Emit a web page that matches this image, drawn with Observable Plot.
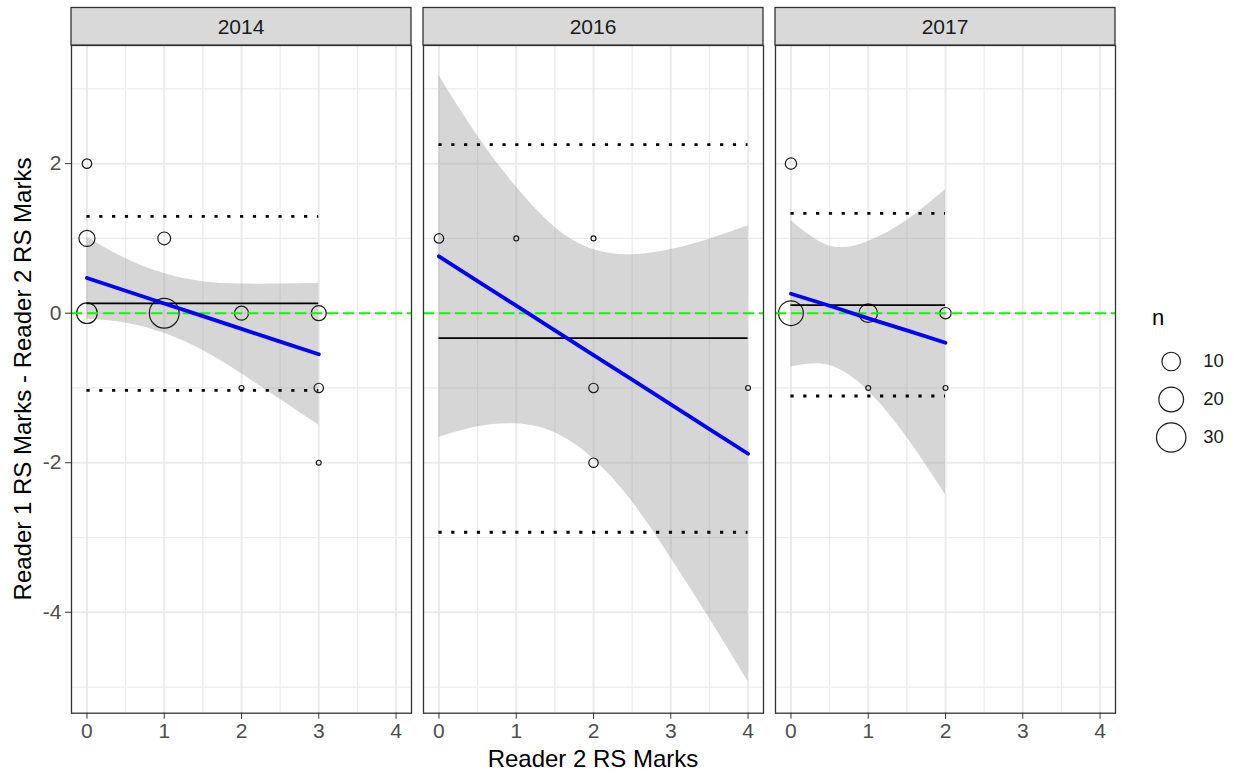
<!DOCTYPE html>
<html><head><meta charset="utf-8">
<script src="https://cdn.jsdelivr.net/npm/d3@7"></script>
<script src="https://cdn.jsdelivr.net/npm/@observablehq/plot@0.6"></script>
<style>
html,body{margin:0;padding:0;background:#fff;}
#wrap{position:relative;width:1238px;height:776px;overflow:hidden;font-family:"Liberation Sans",Arial,sans-serif;}
#wrap svg{position:absolute;}
.xtitle{position:absolute;left:0;width:1186px;top:747px;text-align:center;font-size:24px;line-height:24px;color:#000;}
.ytitle{position:absolute;left:23px;top:379px;transform:translate(-50%,-50%) rotate(-90deg);white-space:nowrap;font-size:24px;line-height:24px;color:#000;}
.ltitle{position:absolute;left:1152px;top:307px;font-size:22px;line-height:22px;color:#000;}
</style></head><body><div id="wrap"></div>
<script>
const FONT = '"Liberation Sans", Arial, sans-serif';
const years = ["2014", "2016", "2017"];

// observed points (x = Reader 2 marks, diff = Reader1 - Reader2, n = count)
const x2014 = [0, 0, 1, 0, 1, 2, 3, 2, 3, 3];
const diff2014 = [2, 1, 1, 0, 0, 0, 0, -1, -1, -2];
const n2014 = [2, 7, 4, 13, 31, 5, 6, 1, 2, 1];
const x2016 = [0, 1, 2, 2, 2, 4];
const diff2016 = [1, 1, 1, -1, -2, -1];
const n2016 = [2, 1, 1, 2, 2, 1];
const x2017 = [0, 0, 1, 2, 1, 2];
const diff2017 = [2, 0, 0, 0, -1, -1];
const n2017 = [3, 20, 10, 3, 1, 1];

// mean difference and limits of agreement per year
const meanDiff = [0.131, -0.333, 0.108];
const upperLoA = [1.294, 2.253, 1.334];
const lowerLoA = [-1.032, -2.930, -1.108];

// linear fit and its confidence band
const smoothX2014 = [0, 0.5, 1, 1.5, 2, 2.5, 3];
const fit2014 = [0.47, 0.30, 0.13, -0.04, -0.21, -0.38, -0.55];
const ciHi2014 = [1.02, 0.73, 0.53, 0.42, 0.39, 0.39, 0.40];
const ciLo2014 = [-0.08, -0.13, -0.27, -0.50, -0.81, -1.15, -1.50];
const smoothX2016 = [0, 0.5, 1, 1.5, 2, 2.5, 3, 3.5, 4];
const fit2016 = [0.76, 0.43, 0.10, -0.23, -0.56, -0.89, -1.22, -1.55, -1.88];
const ciHi2016 = [3.18, 2.37, 1.69, 1.15, 0.85, 0.78, 0.85, 0.99, 1.17];
const ciLo2016 = [-1.66, -1.52, -1.48, -1.60, -1.95, -2.52, -3.27, -4.08, -4.93];
const smoothX2017 = [0, 0.5, 1, 1.5, 2];
const fit2017 = [0.26, 0.10, -0.07, -0.23, -0.395];
const ciHi2017 = [1.24, 0.90, 0.96, 1.24, 1.65];
const ciLo2017 = [-0.72, -0.70, -1.04, -1.66, -2.43];

// axis ticks
const xTicks = [0, 1, 2, 3, 4];
const xMinor = [0.5, 1.5, 2.5, 3.5];
const yTicks = [-4, -2, 0, 2];
const yMinor = [-5, -3, -1, 1, 3];
const legendN = [10, 20, 30];

// ---- build tables ----
const pointSets = {"2014": [x2014, diff2014, n2014], "2016": [x2016, diff2016, n2016], "2017": [x2017, diff2017, n2017]};
const smoothSets = {"2014": [smoothX2014, fit2014, ciLo2014, ciHi2014], "2016": [smoothX2016, fit2016, ciLo2016, ciHi2016], "2017": [smoothX2017, fit2017, ciLo2017, ciHi2017]};
const points = years.flatMap(yr => {
  const [xs, ds, ns] = pointSets[yr];
  return xs.map((x, i) => ({year: yr, x, diff: ds[i], n: ns[i]}));
});
const agreement = years.map((yr, i) => ({
  year: yr, x1: 0, x2: d3.max(pointSets[yr][0]), mean: meanDiff[i], hi: upperLoA[i], lo: lowerLoA[i]
}));
const smooth = years.flatMap(yr => {
  const [xs, f, lo, hi] = smoothSets[yr];
  return xs.map((x, i) => ({year: yr, x, fit: f[i], lo: lo[i], hi: hi[i]}));
});
const nMin = d3.min(points, d => d.n);
const nMax = d3.max(points, d => d.n);
const rScale = {type: "sqrt", domain: [0, nMax - nMin], range: [2.45, 14.9]};

const plot = Plot.plot({
  width: 1238, height: 776,
  marginLeft: 70.5, marginRight: 122.5, marginTop: 45, marginBottom: 63.3,
  style: {fontFamily: FONT, fontSize: "21px", background: "transparent", overflow: "visible"},
  fx: {domain: years, paddingInner: 0.0355, paddingOuter: 0, axis: null, label: null},
  x: {domain: [-0.2, 4.2], axis: null},
  y: {domain: [-5.35, 3.58], axis: null},
  r: rScale,
  marks: [
    Plot.gridX({ticks: xMinor, stroke: "#EBEBEB", strokeOpacity: 1, strokeWidth: 1.2}),
    Plot.gridY({ticks: yMinor, stroke: "#EBEBEB", strokeOpacity: 1, strokeWidth: 1.2}),
    Plot.gridX({ticks: xTicks, stroke: "#EBEBEB", strokeOpacity: 1, strokeWidth: 2}),
    Plot.gridY({ticks: yTicks, stroke: "#EBEBEB", strokeOpacity: 1, strokeWidth: 2}),
    Plot.areaY(smooth, {x: "x", y1: "lo", y2: "hi", fx: "year", fill: "#999999", fillOpacity: 0.4, curve: "natural"}),
    Plot.dot(points, {x: "x", y: "diff", r: d => d.n - nMin, fx: "year", stroke: "#1a1a1a", strokeWidth: 1.2, fill: "none"}),
    Plot.ruleY(agreement, {y: "mean", x1: "x1", x2: "x2", fx: "year", stroke: "#000", strokeWidth: 1.8}),
    Plot.ruleY(agreement, {y: "hi", x1: "x1", x2: "x2", fx: "year", stroke: "#000", strokeWidth: 2.8, strokeDasharray: "3.2,9.6"}),
    Plot.ruleY(agreement, {y: "lo", x1: "x1", x2: "x2", fx: "year", stroke: "#000", strokeWidth: 2.8, strokeDasharray: "3.2,9.6"}),
    Plot.ruleY([0], {stroke: "#00FF00", strokeWidth: 2, strokeDasharray: "11.2,4.8"}),
    Plot.line(smooth, {x: "x", y: "fit", fx: "year", stroke: "#0000FF", strokeWidth: 3.8}),
    Plot.frame({stroke: "#333333", strokeWidth: 1.3}),
    Plot.axisX({ticks: xTicks, tickSize: 6, tickPadding: 4, tickFormat: d => String(d), label: null, stroke: "#333333", fill: "#4D4D4D", fontSize: 21}),
    Plot.axisY({ticks: yTicks, tickSize: 6, tickPadding: 4, tickFormat: d => String(d), label: null, stroke: "#333333", fill: "#4D4D4D", fontSize: 21})
  ]
});

// facet strips, positioned with the fx scale
const fx = plot.scale("fx");
const g = d3.select(plot).append("g");
for (const yr of years) {
  const x0 = fx.apply(yr);
  g.append("rect").attr("x", x0).attr("y", 7.5).attr("width", fx.bandwidth).attr("height", 37.5)
    .attr("fill", "#D9D9D9").attr("stroke", "#333333").attr("stroke-width", 1.3);
  g.append("text").attr("x", x0 + fx.bandwidth / 2).attr("y", 34).attr("text-anchor", "middle")
    .attr("font-size", 21).attr("font-family", FONT).attr("fill", "#1A1A1A").text(yr);
}

// size legend
const legend = Plot.plot({
  width: 100, height: 170, margin: 0,
  style: {fontFamily: FONT, background: "transparent", overflow: "visible"},
  x: {domain: [0, 1], range: [32.7, 64.7], axis: null},
  y: {type: "point", domain: legendN, range: [61, 137], padding: 0, axis: null},
  r: rScale,
  marks: [
    Plot.dot(legendN, {x: d => 0, y: d => d, r: d => d - nMin, stroke: "#1a1a1a", strokeWidth: 1.2, fill: "none"}),
    Plot.text(legendN, {x: d => 1, y: d => d, text: d => String(d), textAnchor: "start", fontSize: 18.5, fill: "#1a1a1a"})
  ]
});

const wrap = document.getElementById("wrap");
plot.style.left = "0px"; plot.style.top = "0px";
legend.style.left = "1138px"; legend.style.top = "300px";
wrap.appendChild(plot);
wrap.appendChild(legend);
const xt = document.createElement("div"); xt.className = "xtitle"; xt.textContent = "Reader 2 RS Marks"; wrap.appendChild(xt);
const yt = document.createElement("div"); yt.className = "ytitle"; yt.textContent = "Reader 1 RS Marks - Reader 2 RS Marks"; wrap.appendChild(yt);
const lt = document.createElement("div"); lt.className = "ltitle"; lt.textContent = "n"; wrap.appendChild(lt);
</script></body></html>
